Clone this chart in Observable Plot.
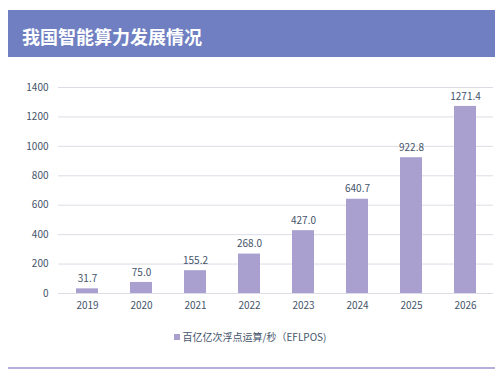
<!DOCTYPE html>
<html>
<head>
<meta charset="utf-8">
<script src="https://cdn.jsdelivr.net/npm/d3@7"></script>
<script src="https://cdn.jsdelivr.net/npm/@observablehq/plot@0.6"></script>
<style>
  html, body { margin: 0; padding: 0; background: #fff; }
  body { width: 500px; height: 380px; position: relative; overflow: hidden; font-family: "Noto Sans CJK SC", "Noto Sans", sans-serif; }
  #header { position: absolute; left: 8px; top: 10px; width: 487px; height: 47px; background: #6f7fc2; }
  #header span { position: absolute; left: 14px; top: 14px; color: #fff; font-size: 18px; font-weight: bold; line-height: 24px; }
  #chart { position: absolute; left: 0; top: 70px; }
  #legend { position: absolute; left: 0; width: 500px; top: 329px; text-align: center; font-size: 10px; color: #44546a; line-height: 16px; }
  #legend i { display: inline-block; width: 6px; height: 6px; background: #a9a0d0; margin-right: 3px; vertical-align: 1px; }
  #footer { position: absolute; left: 8px; top: 367px; width: 487px; height: 2px; background: #b3aedb; }
</style>
</head>
<body>
<div id="header"><span>我国智能算力发展情况</span></div>
<div id="chart"></div>
<div id="legend"><i></i>百亿亿次浮点运算/秒（EFLPOS)</div>
<div id="footer"></div>
<script>
const years = ["2019", "2020", "2021", "2022", "2023", "2024", "2025", "2026"];
const values = [31.7, 75.0, 155.2, 268.0, 427.0, 640.7, 922.8, 1271.4];
const yTicks = [0, 200, 400, 600, 800, 1000, 1200, 1400];

const data = years.map((y, i) => ({year: y, value: values[i]}));

const chart = Plot.plot({
  width: 500,
  height: 250,
  marginTop: 17,
  marginBottom: 27,
  marginLeft: 58,
  marginRight: 7,
  style: {fontFamily: "'Noto Sans CJK SC', 'Noto Sans', sans-serif", fontSize: "10px", color: "#44546a", background: "transparent"},
  x: {domain: years, paddingInner: 0.6, paddingOuter: 0.3, label: null},
  y: {domain: [0, 1400], label: null},
  marks: [
    Plot.gridY(yTicks, {stroke: "#dcdce6", strokeOpacity: 1}),
    Plot.axisY(yTicks, {tickSize: 0, tickPadding: 10, label: null, fill: "#44546a", tickFormat: d => String(d)}),
    Plot.axisX({tickSize: 0, tickPadding: 8, label: null, fill: "#44546a"}),
    Plot.barY(data, {x: "year", y: "value", fill: "#a9a0d0"}),
    Plot.text(data, {x: "year", y: "value", text: d => d.value.toFixed(1), dy: -10, fill: "#44546a", fontSize: 10})
  ]
});
document.getElementById("chart").appendChild(chart);
</script>
</body>
</html>
